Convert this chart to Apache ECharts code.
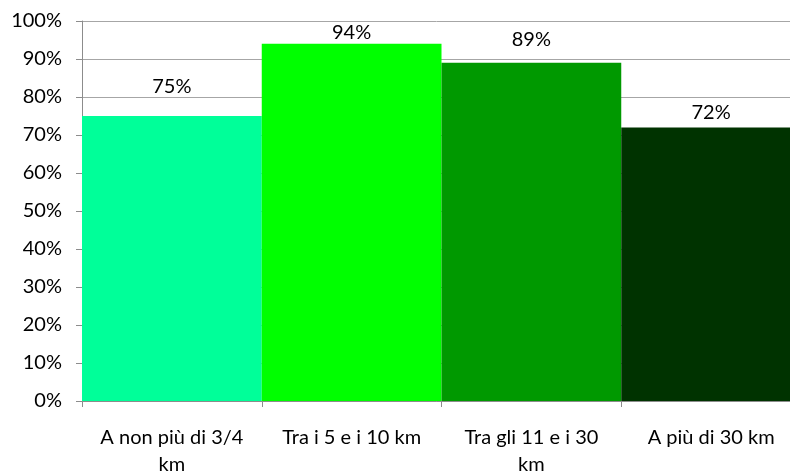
<!DOCTYPE html>
<html>
<head>
<meta charset="utf-8">
<script src="https://cdn.jsdelivr.net/npm/echarts@6/dist/echarts.min.js"></script>
<style>
  html, body { margin: 0; padding: 0; background: #ffffff; }
  #chart { width: 790px; height: 475px; }
</style>
</head>
<body>
<div id="chart"></div>
<script>
// Distance from home to destination, share of respondents
const categories = ['A non più di 3/4\nkm', 'Tra i 5 e i 10 km', 'Tra gli 11 e i 30\nkm', 'A più di 30 km'];
const shares = [75, 94, 89, 72];
const barColors = ['#00ff99', '#00ff00', '#009900', '#003300'];
const yTicks = [0, 10, 20, 30, 40, 50, 60, 70, 80, 90, 100];

// gap between each value label and its bar top, in px
const labelGap = [19, 1, 13, 5];

const FONT = 'Lato, "Open Sans", sans-serif';
const AXIS_GRAY = '#8c8c8c';
const GRID_GRAY = '#a6a6a6';

const chart = echarts.init(document.getElementById('chart'), null, { renderer: 'canvas' });

chart.setOption({
  animation: false,
  backgroundColor: '#ffffff',
  // the last column runs past the right edge of the canvas
  grid: {
    left: 82, top: 21, width: 719, height: 380,
    containLabel: false, outerBoundsMode: 'none'
  },
  xAxis: {
    type: 'category',
    data: categories,
    axisLine: { show: true, lineStyle: { color: AXIS_GRAY, width: 1 } },
    axisTick: { show: true, length: 6, alignWithLabel: false, lineStyle: { color: AXIS_GRAY } },
    axisLabel: {
      color: '#000', fontFamily: FONT, fontSize: 20, margin: 23, lineHeight: 27,
      interval: 0
    }
  },
  yAxis: {
    type: 'value',
    min: yTicks[0],
    max: yTicks[yTicks.length - 1],
    interval: yTicks[1] - yTicks[0],
    axisLine: { show: true, lineStyle: { color: AXIS_GRAY, width: 1 } },
    axisTick: { show: true, length: 6, lineStyle: { color: AXIS_GRAY } },
    axisLabel: {
      color: '#000', fontFamily: FONT, fontSize: 20, margin: 20,
      formatter: v => v + '%'
    },
    splitLine: { show: true, lineStyle: { color: GRID_GRAY, width: 1 } }
  },
  series: [{
    type: 'bar',
    barCategoryGap: 0,
    data: shares.map((v, i) => ({
      value: v,
      itemStyle: { color: barColors[i] },
      label: { distance: labelGap[i] }
    })),
    label: {
      show: true,
      position: 'top',
      color: '#000',
      fontFamily: FONT,
      fontSize: 20,
      formatter: p => p.value + '%'
    }
  }]
});
</script>
</body>
</html>
